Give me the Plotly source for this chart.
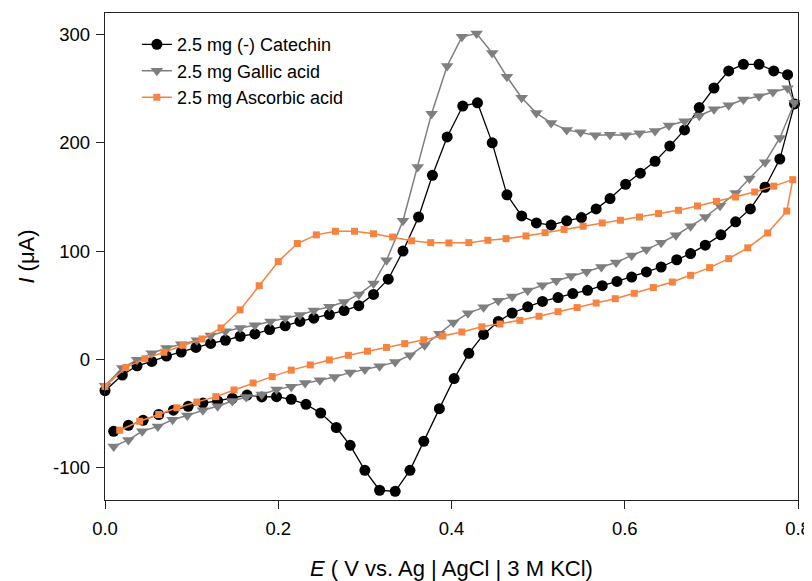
import plotly.graph_objects as go

# ---- data (E in V, I in µA) ----
# (-) Catechin: forward sweep then reverse sweep
cat_E_fwd = [0.000, 0.020, 0.037, 0.054, 0.071, 0.088, 0.105, 0.122, 0.139, 0.156, 0.173, 0.190,
             0.208, 0.225, 0.241, 0.259, 0.276, 0.293, 0.310, 0.327, 0.344, 0.362, 0.378, 0.395,
             0.413, 0.430, 0.447, 0.464, 0.481, 0.498, 0.515, 0.533, 0.550, 0.567, 0.583, 0.601,
             0.618, 0.635, 0.652, 0.669, 0.686, 0.703, 0.720, 0.737, 0.755, 0.772, 0.788, 0.796]
cat_I_fwd = [-29, -14.5, -6, -2, 3, 6.7, 11, 14.7, 17.6, 21.3, 23.5, 27.5,
             31, 35, 38, 41.3, 45, 49.6, 60, 74, 100, 131.5, 170, 205.5,
             234, 237, 200, 152, 132.5, 126, 124, 128, 131, 139, 148.5, 161.7,
             172, 183, 197, 212, 232.6, 250.7, 266.5, 272.6, 272.6, 266.5, 263, 236]
cat_E_rev = [0.779, 0.762, 0.745, 0.728, 0.711, 0.693, 0.676, 0.660, 0.642, 0.625, 0.608, 0.591,
             0.574, 0.557, 0.540, 0.523, 0.505, 0.488, 0.470, 0.454, 0.437, 0.420, 0.403, 0.386,
             0.368, 0.352, 0.335, 0.317, 0.300, 0.283, 0.267, 0.249, 0.232, 0.215, 0.198, 0.181,
             0.164, 0.147, 0.130, 0.113, 0.096, 0.079, 0.062, 0.044, 0.027, 0.010]
cat_I_rev = [185, 159, 139, 127, 115, 105.5, 97.7, 92, 85.3, 80.7, 76, 72,
             68, 63.8, 60.7, 57, 53.5, 48.5, 42.8, 35, 23, 5.5, -17.8, -45.6,
             -75.7, -102.6, -122, -121, -102.6, -79.5, -63, -49.6, -41.6, -37, -34.5, -34.8,
             -33, -36, -38.5, -40.4, -43.4, -47, -51, -56.4, -61, -66.5]

# Gallic acid
gal_E_fwd = [0.000, 0.020, 0.037, 0.054, 0.071, 0.088, 0.106, 0.122, 0.139, 0.156, 0.173, 0.191,
             0.208, 0.225, 0.241, 0.259, 0.276, 0.293, 0.310, 0.325, 0.344, 0.361, 0.377, 0.395,
             0.412, 0.429, 0.447, 0.464, 0.481, 0.498, 0.515, 0.533, 0.549, 0.566, 0.583, 0.601,
             0.617, 0.635, 0.651, 0.669, 0.686, 0.703, 0.720, 0.737, 0.755, 0.771, 0.788, 0.796]
gal_I_fwd = [-24.5, -8, -0.5, 5.5, 10.5, 14, 17.5, 22, 26, 29, 31.5, 35,
             38, 41, 45, 48.5, 53, 60, 70, 91.5, 128, 177.7, 227, 271,
             298, 301, 283, 261, 241.7, 227.5, 218.4, 212, 209.8, 207, 207.6, 207,
             209, 211, 216, 220, 225, 231, 234.7, 240, 243, 247, 250.5, 237]
gal_E_rev = [0.779, 0.762, 0.744, 0.728, 0.710, 0.693, 0.676, 0.659, 0.642, 0.625, 0.608, 0.590,
             0.573, 0.556, 0.538, 0.521, 0.505, 0.488, 0.470, 0.454, 0.437, 0.419, 0.402, 0.386,
             0.369, 0.352, 0.335, 0.317, 0.300, 0.283, 0.265, 0.248, 0.231, 0.215, 0.198, 0.181,
             0.163, 0.147, 0.130, 0.113, 0.095, 0.078, 0.061, 0.043, 0.027, 0.010]
gal_I_rev = [204.5, 182, 167, 153.7, 142, 131.5, 123, 114.6, 107.8, 101.4, 96, 89.5,
             85.3, 81, 77, 72.5, 68.5, 63.5, 58, 54, 48, 42.5, 34, 23.7,
             13, 3.7, -2.5, -6.5, -9.5, -12.3, -16.3, -19.4, -22, -25.3, -28, -32.5,
             -34.8, -38.5, -43.4, -47, -52, -55.8, -62, -66.5, -74.5, -80.5]

# Ascorbic acid
asc_E_fwd = [0.000, 0.024, 0.046, 0.068, 0.090, 0.112, 0.134, 0.156, 0.178, 0.200, 0.222, 0.244,
             0.266, 0.288, 0.310, 0.332, 0.354, 0.376, 0.397, 0.420, 0.442, 0.463, 0.486, 0.508,
             0.530, 0.552, 0.574, 0.595, 0.617, 0.639, 0.662, 0.684, 0.706, 0.728, 0.750, 0.772,
             0.794]
asc_I_fwd = [-25, -7.5, 0.5, 6.5, 13, 18.8, 29, 45.7, 68, 90.3, 107, 115,
             118.3, 118.3, 116, 113, 109.5, 107.8, 107.5, 107.8, 110, 111.5, 114, 117,
             120, 123, 126, 128.5, 131.5, 134.7, 137.7, 141.7, 146, 150, 154.6, 160,
             166]
asc_E_rev = [0.787, 0.765, 0.742, 0.720, 0.698, 0.676, 0.655, 0.633, 0.611, 0.589, 0.567, 0.545,
             0.523, 0.501, 0.479, 0.456, 0.435, 0.412, 0.390, 0.368, 0.346, 0.325, 0.303, 0.281,
             0.259, 0.237, 0.215, 0.193, 0.171, 0.149, 0.128, 0.106, 0.083, 0.062, 0.040, 0.017]
asc_I_rev = [137, 116.7, 103, 93, 84.7, 77.6, 71.4, 66.3, 61, 56, 52, 47.8,
             44, 39.8, 36, 32.6, 30, 25.2, 21.5, 18, 14.5, 11, 7.5, 3.7,
             -0.6, -5.2, -10, -16, -21.9, -28.3, -34.5, -39.5, -44.8, -51, -57.3, -65.5]

series_names = ["2.5 mg (-) Catechin", "2.5 mg Gallic acid", "2.5 mg Ascorbic acid"]
x_ticks = [0.0, 0.2, 0.4, 0.6, 0.8]
x_labels = ["0.0", "0.2", "0.4", "0.6", "0.8"]
y_ticks = [-100, 0, 100, 200, 300]
y_labels = ["-100", "0", "100", "200", "300"]

FONT = "Arial, Liberation Sans, sans-serif"
ORANGE = "#F6833F"
GRAY = "#7F7F7F"

fig = go.Figure()
fig.add_trace(go.Scatter(
    x=cat_E_fwd + cat_E_rev, y=cat_I_fwd + cat_I_rev, name=series_names[0],
    mode="lines+markers", cliponaxis=False,
    line=dict(color="black", width=1.3),
    marker=dict(symbol="circle", size=11, color="black")))
fig.add_trace(go.Scatter(
    x=gal_E_fwd + gal_E_rev, y=gal_I_fwd + gal_I_rev, name=series_names[1],
    mode="lines+markers", cliponaxis=False,
    line=dict(color=GRAY, width=1.5),
    marker=dict(symbol="triangle-down", size=11, color=GRAY)))
fig.add_trace(go.Scatter(
    x=asc_E_fwd + asc_E_rev, y=asc_I_fwd + asc_I_rev, name=series_names[2],
    mode="lines+markers", cliponaxis=False,
    line=dict(color=ORANGE, width=1.5),
    marker=dict(symbol="square", size=7, color=ORANGE)))

axis_common = dict(showline=True, linecolor="#222", linewidth=1.3, mirror=True,
                   ticks="outside", ticklen=8, tickwidth=1.3, tickcolor="#222",
                   showgrid=False, zeroline=False, automargin=False,
                   tickfont=dict(family=FONT, size=18.5, color="black"))

fig.update_xaxes(range=[0, 0.8], tickvals=x_ticks, ticktext=x_labels, ticklabelstandoff=4,
                 title=dict(text="<i>E</i> ( V vs. Ag | AgCl | 3 M KCl)",
                            font=dict(family=FONT, size=22, color="black"), standoff=29),
                 **axis_common)
fig.update_yaxes(range=[-130, 320], tickvals=y_ticks, ticktext=y_labels, ticklabelstandoff=2,
                 title=dict(text="<i>I</i> (μA)",
                            font=dict(family=FONT, size=22, color="black"), standoff=12),
                 **axis_common)

# page body has an 8 px margin, so the figure is drawn 8 px smaller/offset
fig.update_layout(
    width=804, height=573,
    margin=dict(l=97, r=14, t=5, b=81),
    plot_bgcolor="white", paper_bgcolor="white",
    font=dict(family=FONT, color="black"),
    showlegend=True,
    legend=dict(x=0.046, y=0.973, xanchor="left", yanchor="top",
                bgcolor="rgba(0,0,0,0)", borderwidth=0,
                font=dict(family=FONT, size=18, color="black"),
                tracegroupgap=0, itemwidth=30),
)

fig.write_html("out.html")
